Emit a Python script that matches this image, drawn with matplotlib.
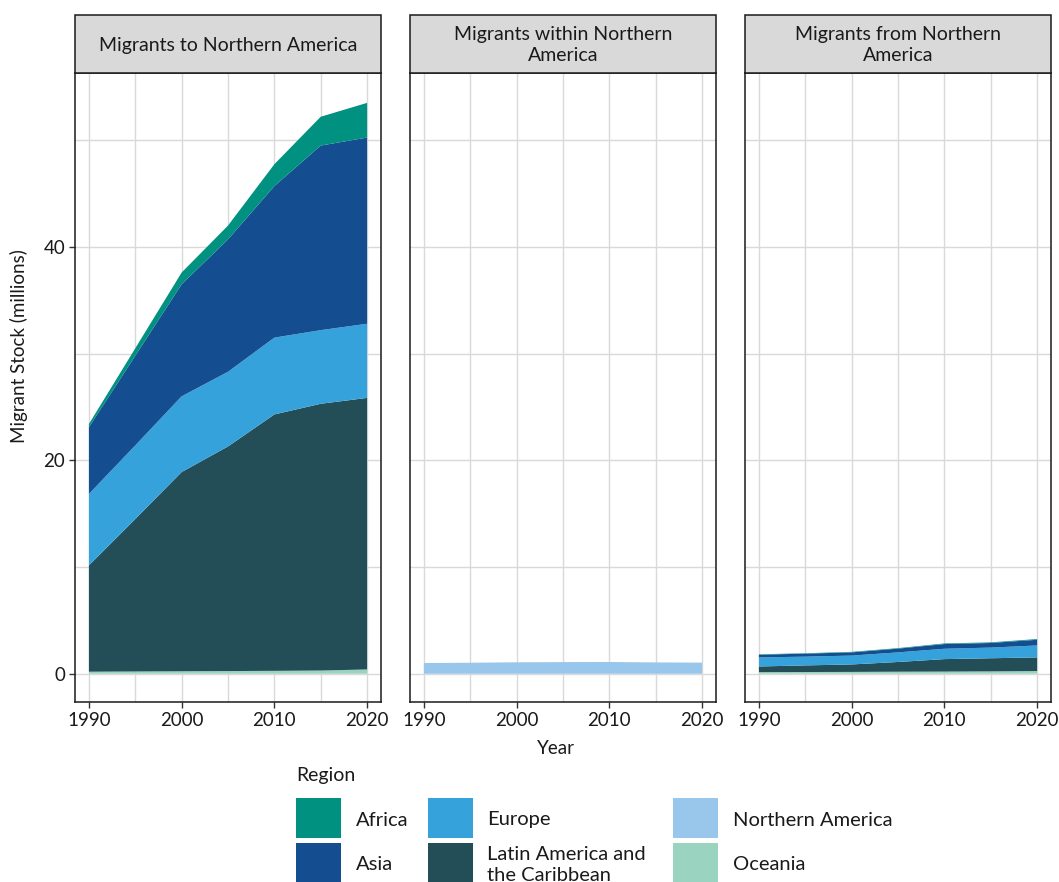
import matplotlib
matplotlib.use("Agg")
import matplotlib.pyplot as plt
from matplotlib.patches import Rectangle
from matplotlib.ticker import MultipleLocator
import numpy as np

# ---- data (millions) ----
years = [1990, 1995, 2000, 2005, 2010, 2015, 2020]
regions = ["Africa", "Asia", "Europe", "Latin America and\nthe Caribbean",
           "Northern America", "Oceania"]
colors = ["#009180", "#144D90", "#36A2DC", "#234E57", "#99C6EB", "#9AD3C0"]

panel_titles = ["Migrants to Northern America",
                "Migrants within Northern\nAmerica",
                "Migrants from Northern\nAmerica"]

# migrants to Northern America
to_africa = [0.30, 0.70, 1.10, 1.30, 2.05, 2.70, 3.25]
to_asia = [6.25, 8.40, 10.50, 12.40, 14.20, 17.30, 17.45]
to_europe = [6.70, 6.90, 7.10, 7.00, 7.20, 6.90, 6.95]
to_latam = [9.96, 14.29, 18.67, 21.05, 24.03, 25.00, 25.45]
to_namerica = [0, 0, 0, 0, 0, 0, 0]
to_oceania = [0.19, 0.21, 0.23, 0.25, 0.27, 0.30, 0.40]

# migrants within Northern America
within_namerica = [1.00, 1.03, 1.07, 1.09, 1.10, 1.06, 1.04]

# migrants from Northern America
from_africa = [0.04, 0.04, 0.05, 0.05, 0.06, 0.06, 0.07]
from_asia = [0.25, 0.28, 0.30, 0.35, 0.44, 0.43, 0.53]
from_europe = [0.85, 0.82, 0.83, 0.90, 0.97, 1.00, 1.12]
from_latam = [0.53, 0.62, 0.70, 0.91, 1.17, 1.23, 1.28]
from_namerica = [0, 0, 0, 0, 0, 0, 0]
from_oceania = [0.15, 0.16, 0.17, 0.19, 0.20, 0.22, 0.25]

zeros = [0] * len(years)
panels = [
    [to_africa, to_asia, to_europe, to_latam, to_namerica, to_oceania],
    [zeros, zeros, zeros, zeros, within_namerica, zeros],
    [from_africa, from_asia, from_europe, from_latam, from_namerica, from_oceania],
]

FONT = "Lato"
plt.rcParams["font.family"] = [FONT, "DejaVu Sans"]

W, H = 1059, 882
fig = plt.figure(figsize=(W / 100, H / 100), dpi=100)


def fx(px):
    return px / W


def fy(py):
    return 1 - py / H


panel_left = [75, 410, 745]
panel_w = 306
top, bottom = 73, 702
strip_top = 15
grid_col = "#d9d9d9"
ink = "#1a1a1a"

for i, (left, title, layers) in enumerate(zip(panel_left, panel_titles, panels)):
    ax = fig.add_axes([fx(left), fy(bottom), panel_w / W, (bottom - top) / H])
    # ggplot stacks in reverse factor order: last region at the bottom
    ax.stackplot(years, *[np.array(v, float) for v in layers[::-1]],
                 colors=colors[::-1], linewidth=0, zorder=2)
    ax.set_xlim(1988.5, 2021.5)
    ax.set_ylim(-2.65, 56.3)
    ax.xaxis.set_major_locator(MultipleLocator(10))
    ax.xaxis.set_minor_locator(MultipleLocator(5))
    ax.yaxis.set_major_locator(MultipleLocator(20))
    ax.yaxis.set_minor_locator(MultipleLocator(10))
    ax.grid(which="both", color=grid_col, linewidth=1.0, zorder=0)
    ax.set_axisbelow(True)
    ax.tick_params(which="minor", length=0)
    ax.tick_params(which="major", length=4, width=1, color="#333333",
                   labelsize=13.5, labelcolor=ink, pad=3)
    for s in ax.spines.values():
        s.set_color(ink)
        s.set_linewidth(1.1)
        s.set_zorder(5)
    if i > 0:
        ax.tick_params(axis="y", which="both", left=False, labelleft=False)

    # strip header
    fig.add_artist(Rectangle((fx(left), fy(top)), panel_w / W, (top - strip_top) / H,
                             transform=fig.transFigure, facecolor="#d9d9d9",
                             edgecolor=ink, linewidth=1.1))
    fig.text(fx(left + panel_w / 2), fy((top + strip_top) / 2 + 1), title,
             ha="center", va="center", fontsize=14, color=ink,
             linespacing=1.22)

fig.text(fx(19), fy(346), "Migrant Stock (millions)", rotation=90,
         ha="center", va="center", fontsize=13.5, color=ink)
fig.text(fx(556), fy(749), "Year", ha="center", va="center", fontsize=13.5,
         color=ink)

# legend drawn in figure pixels (bottom row is cut by the figure edge)
fig.text(fx(296), fy(775), "Region", ha="left", va="center", fontsize=14,
         color=ink)
key_x = [296, 296, 428, 428, 673, 673]
text_x = [356, 356, 487, 487, 733, 733]
key_y = [798, 843, 798, 843, 798, 843]
for name, col, kx, tx, ky in zip(regions, colors, key_x, text_x, key_y):
    fig.add_artist(Rectangle((fx(kx), fy(ky + 40)), 45 / W, 40 / H,
                             transform=fig.transFigure, facecolor=col,
                             edgecolor="none"))
    fig.text(fx(tx), fy(ky + 22), name, ha="left", va="center",
             fontsize=14.5, linespacing=1.25, color=ink)

fig.savefig("out.png", dpi=100)
